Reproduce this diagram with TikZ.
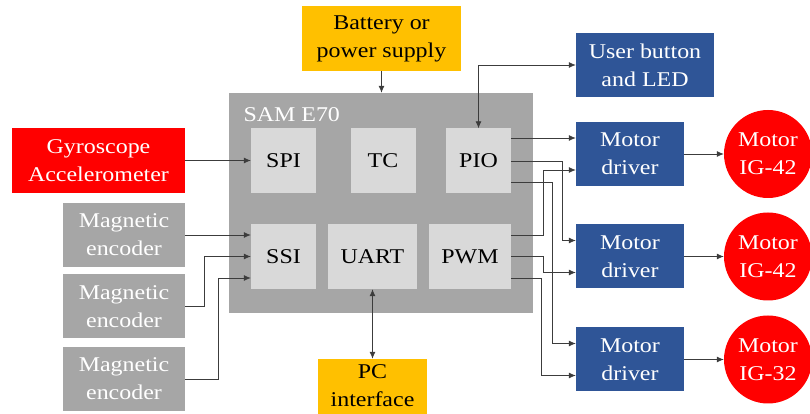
\documentclass[tikz,border=0pt]{standalone}
\usepackage{fontspec}
\setmainfont[FakeStretch=1.14]{Liberation Serif}
\usetikzlibrary{arrows.meta}
\definecolor{amber}{HTML}{FFC000}
\definecolor{navy}{HTML}{2F5597}
\definecolor{chipgray}{HTML}{A6A6A6}
\definecolor{unitgray}{HTML}{D9D9D9}
\definecolor{linegray}{HTML}{3C3C3C}

\begin{document}
\begin{tikzpicture}[x=1pt, y=1pt, >={Latex[length=7pt,width=6pt]},
  font=\rmfamily\fontsize{21}{28}\selectfont,
  box/.style={align=center, inner sep=0pt, minimum height=65pt},
  unit/.style={box, fill=unitgray, minimum width=65pt},
  ext/.style={box, fill=#1, text=white},
  mot/.style={circle, fill=red, text=white, align=center,
    inner sep=0pt, minimum size=88pt},
  wire/.style={draw=linegray, line width=0.8pt}]
  \useasboundingbox (0,0) rectangle (810,414);

  % microcontroller and its units
  \node[fill=chipgray, minimum width=304pt, minimum height=220pt,
    inner sep=0pt] (sam) at (381,211) {};
  \node[text=white, anchor=base west] (samlab) at (240,292) {SAM E70};
  \node[unit] (spi) at (283.5,253) {SPI};
  \node[unit] (tc) at (383,253) {TC};
  \node[unit] (pio) at (478.5,253) {PIO};
  \node[unit] (ssi) at (283.5,157.5) {SSI};
  \node[unit, minimum width=89pt] (uart) at (372.5,157.5) {UART};
  \node[unit, minimum width=82pt] (pwm) at (470,157.5) {PWM};

  % peripherals
  \node[box, fill=amber, minimum width=159pt] (batt) at (381.5,375.5)
    {Battery or\\power supply};
  \node[ext=navy, minimum width=138pt, minimum height=64pt] (user)
    at (645,349) {User button\\and LED};
  \node[ext=red, minimum width=173pt] (gyro) at (98.5,253.5)
    {Gyroscope\\Accelerometer};
  \node[box, fill=amber, minimum width=109pt, minimum height=70pt] (pc)
    at (372.5,20) {};
  \node[align=center, anchor=north] (pctext) at ([yshift=-2]pc.north)
    {PC\\interface};
  \foreach \i/\y in {1/179,2/107.5,3/35}
    \node[ext=chipgray, minimum width=122pt, minimum height=64pt] (enc\i)
      at (124,\y) {Magnetic\\encoder};

  % drivers and motors
  \foreach \i/\y/\m in {1/260/42,2/157.5/42,3/54.5/32} {
    \node[ext=navy, minimum width=108pt, minimum height=64pt] (drv\i)
      at (630,\y) {Motor\\driver};
    \node[mot] (mot\i) at (768,\y) {Motor\\IG-\m};
    \draw[wire, ->] (drv\i.east) -- (drv\i.east -| mot\i.west);
  }

  % connections
  \draw[wire, ->] (batt.south) -- (batt.south |- sam.north);
  \draw[wire, <->] (pio.north) |- (user.west);
  \draw[wire, <->] (uart.south) -- (uart.south |- pc.north);
  \draw[wire, ->] (gyro.east) -- (gyro.east -| spi.west);
  \draw[wire, ->] (enc1.east) -- ([yshift=21.5]ssi.west);
  \draw[wire, ->] (enc2.east) -- ++(19,0) |- (ssi.west);
  \draw[wire, ->] (enc3.east) -- ++(33,0) |- ([yshift=-21.5]ssi.west);

  \draw[wire, ->] ([yshift=16]drv1.west -| pio.east) -- ([yshift=16]drv1.west);
  \draw[wire, ->] (pio.east) -- ++(51,0) |- ([yshift=16]drv2.west);
  \draw[wire, ->] ([yshift=-21]pio.east) -- ++(41,0) |- ([yshift=16]drv3.west);
  \draw[wire, ->] ([yshift=21.5]pwm.east) -- ++(32,0) |- ([yshift=-16]drv1.west);
  \draw[wire, ->] (pwm.east) -- ++(32,0) |- ([yshift=-16]drv2.west);
  \draw[wire, ->] ([yshift=-21.5]pwm.east) -- ++(30,0) |- ([yshift=-16]drv3.west);
\end{tikzpicture}
\end{document}
